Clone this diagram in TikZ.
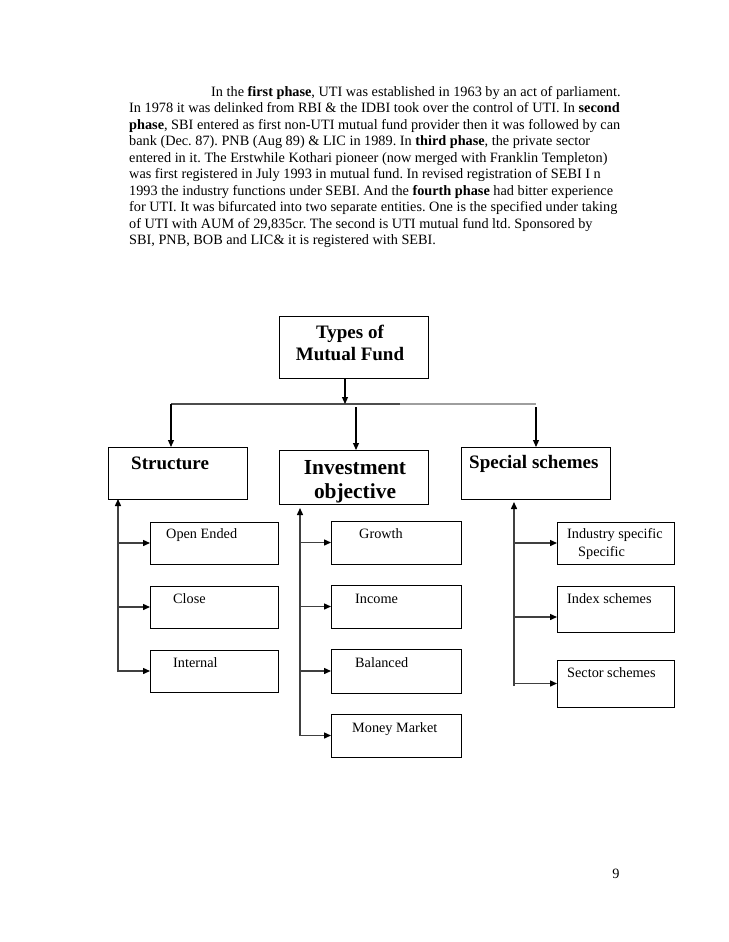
\documentclass[tikz,border=0pt]{standalone}
\usepackage{fontspec}
\setmainfont{Liberation Serif}
\usetikzlibrary{arrows.meta}
\begin{document}
\frenchspacing
\begin{tikzpicture}[x=1pt,y=-1pt,
  box/.style={draw=black,line width=1pt,rectangle,inner sep=0pt,outer sep=0pt,anchor=north west},
  body/.style={anchor=base west,inner sep=0pt,font=\fontsize{14.27}{16.45}\selectfont},
  lbl/.style={anchor=base west,inner sep=0pt,font=\fontsize{14.27}{16.45}\selectfont},
  head/.style={anchor=base west,inner sep=0pt,font=\fontsize{19}{22}\selectfont\bfseries},
  headc/.style={anchor=base,inner sep=0pt,font=\fontsize{19}{22}\selectfont\bfseries},
  headL/.style={anchor=base,inner sep=0pt,font=\fontsize{21.4}{24.6}\selectfont\bfseries},
  conn/.style={line width=1.4pt,draw=black!75},
  arr/.style={conn,-{Triangle[length=7pt,width=6pt,color=black]}},
  arrT/.style={line width=1.1pt,draw=black,-{Triangle[length=7pt,width=6pt,color=black]}}]
\fill[white] (0,0) rectangle (728,942);
\useasboundingbox (0,0) rectangle (728,942);

% paragraph
\node[body] (p1) at (211,96.5) {In the \textbf{first phase}, UTI was established in 1963 by an act of parliament.};
\node[body] (p2) at (129,112.95) {In 1978 it was delinked from RBI \& the IDBI took over the control of UTI. In \textbf{second}};
\node[body] (p3) at (129,129.4) {\textbf{phase}, SBI entered as first non-UTI mutual fund provider then it was followed by can};
\node[body] (p4) at (129,145.85) {bank (Dec. 87). PNB (Aug 89) \& LIC in 1989. In \textbf{third phase}, the private sector};
\node[body] (p5) at (129,162.3) {entered in it. The Erstwhile Kothari pioneer (now merged with Franklin Templeton)};
\node[body] (p6) at (129,178.75) {was first registered in July 1993 in mutual fund. In revised registration of SEBI I n};
\node[body] (p7) at (129,195.2) {1993 the industry functions under SEBI. And the \textbf{fourth phase} had bitter experience};
\node[body] (p8) at (129,211.65) {for UTI. It was bifurcated into two separate entities. One is the specified under taking};
\node[body] (p9) at (129,228.1) {of UTI with AUM of 29,835cr. The second is UTI mutual fund ltd. Sponsored by};
\node[body] (p10) at (129,244.55) {SBI, PNB, BOB and LIC\& it is registered with SEBI.};

% boxes
\node[box,minimum width=149pt,minimum height=62pt] (types) at (279,316) {};
\node[box,minimum width=139pt,minimum height=52pt] (struct) at (108,447) {};
\node[box,minimum width=149pt,minimum height=54pt] (invest) at (279,450) {};
\node[box,minimum width=149pt,minimum height=52pt] (special) at (461,447) {};
\node[box,minimum width=128pt,minimum height=42pt] (open) at (150,522) {};
\node[box,minimum width=128pt,minimum height=42pt] (close) at (150,586) {};
\node[box,minimum width=128pt,minimum height=42pt] (internal) at (150,650) {};
\node[box,minimum width=130pt,minimum height=43pt] (growth) at (331,521) {};
\node[box,minimum width=130pt,minimum height=43pt] (income) at (331,585) {};
\node[box,minimum width=130pt,minimum height=44pt] (balanced) at (331,649) {};
\node[box,minimum width=130pt,minimum height=43pt] (money) at (331,714) {};
\node[box,minimum width=117pt,minimum height=42pt] (industry) at (557,522) {};
\node[box,minimum width=117pt,minimum height=46pt] (index) at (557,586) {};
\node[box,minimum width=117pt,minimum height=47pt] (sector) at (557,660) {};

% box texts
\node[headc] (t-types1) at (350,338) {Types of};
\node[headc] (t-types2) at (350,360) {Mutual Fund};
\node[head] (t-struct) at (131,469) {Structure};
\node[headL] (t-invest1) at (355,474) {Investment};
\node[headL] (t-invest2) at (355,498.5) {objective};
\node[head] (t-special) at (469,468) {Special schemes};
\node[lbl] (t-open) at (166,538.5) {Open Ended};
\node[lbl] (t-close) at (173,603.5) {Close};
\node[lbl] (t-internal) at (173,667.5) {Internal};
\node[lbl] (t-growth) at (359,538.5) {Growth};
\node[lbl] (t-income) at (355,603.5) {Income};
\node[lbl] (t-balanced) at (355,667.5) {Balanced};
\node[lbl] (t-money) at (352,732) {Money Market};
\node[lbl] (t-industry1) at (567,538) {Industry specific};
\node[lbl] (t-industry2) at (578,556) {Specific};
\node[lbl] (t-index) at (567,603.5) {Index schemes};
\node[lbl] (t-sector) at (567,677.5) {Sector schemes};
\node[lbl,anchor=base] (pg) at (616,878) {9};

% top connectors
\coordinate (hub) at (345,404);
\coordinate (hl) at (171,404);
\coordinate (hmid) at (400,404);
\coordinate (hr) at (536,404);
\draw[conn,draw=black!70] (hl) -- (hmid);
\draw[conn,draw=black!38] (hmid) -- (hr);
\draw[arrT] (types.south -| hub) -- (hub);
\draw[arrT] (hl) -- (hl |- struct.north);
\coordinate (ia) at (356,407);
\draw[arrT] (ia) -- (ia |- invest.north);
\coordinate (sa) at (536,407);
\draw[arrT] (sa) -- (sa |- special.north);

% structure group
\coordinate (sbot) at (118,672);
\draw[arr] (sbot) -- (sbot |- struct.south);
\draw[arr] (sbot |- open.west) -- (open.west);
\draw[arr] (sbot |- close.west) -- (close.west);
\draw[arr] (sbot |- internal.west) -- (internal.west);

% investment group
\coordinate (ibot) at (300,735.5);
\coordinate (itop) at (300,508);
\draw[arr] (ibot) -- (itop);
\draw[arr] (ibot |- growth.west) -- (growth.west);
\draw[arr] (ibot |- income.west) -- (income.west);
\draw[arr] (ibot |- balanced.west) -- (balanced.west);
\draw[arr] (ibot |- money.west) -- (money.west);

% special group
\coordinate (spbot) at (514,686);
\coordinate (sptop) at (514,502);
\draw[arr] (spbot) -- (sptop);
\draw[arr] (spbot |- industry.west) -- (industry.west);
\draw[arr] ([yshift=-8pt]index.west -| spbot) -- ([yshift=-8pt]index.west);
\draw[arr] (spbot |- sector.west) -- (sector.west);
\end{tikzpicture}
\end{document}
